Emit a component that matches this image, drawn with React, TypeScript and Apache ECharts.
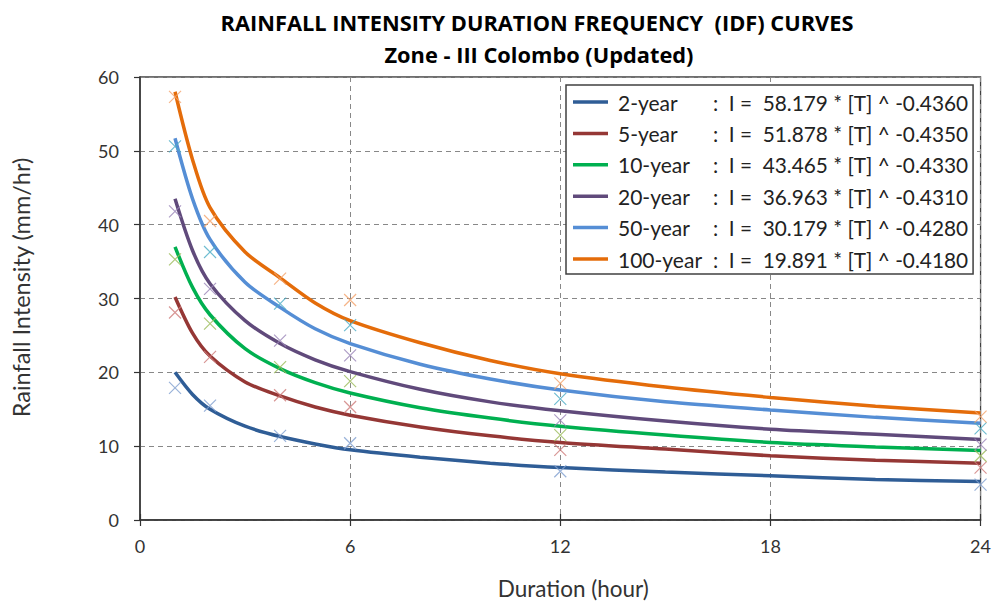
import React, { useEffect, useRef } from "react";
import * as echarts from "echarts";

const durations = [1, 1.5, 2, 3, 4, 5, 6, 8, 10, 12, 15, 18, 21, 24];
const seriesNames = ["2-year", "5-year", "10-year", "20-year", "50-year", "100-year"];
const equations = [
  "58.179 * [T] ^ -0.4360",
  "51.878 * [T] ^ -0.4350",
  "43.465 * [T] ^ -0.4330",
  "36.963 * [T] ^ -0.4310",
  "30.179 * [T] ^ -0.4280",
  "19.891 * [T] ^ -0.4180",
];
const curve2 = [20.0, 17.0, 15.0, 12.7, 11.3, 10.3, 9.5, 8.5, 7.7, 7.1, 6.5, 6.0, 5.5, 5.2];
const curve5 = [30.2, 25.3, 22.2, 18.7, 16.8, 15.3, 14.2, 12.6, 11.4, 10.5, 9.6, 8.7, 8.1, 7.7];
const curve10 = [37.0, 31.5, 27.8, 23.2, 20.5, 18.6, 17.2, 15.2, 13.8, 12.7, 11.5, 10.5, 9.9, 9.4];
const curve20 = [43.5, 36.5, 32.0, 27.0, 23.9, 21.7, 20.1, 17.7, 16.0, 14.8, 13.4, 12.3, 11.6, 10.9];
const curve50 = [51.7, 43.5, 38.0, 32.2, 28.8, 25.9, 23.9, 21.1, 19.1, 17.6, 16.0, 14.9, 13.9, 13.1];
const curve100 = [58.0, 48.8, 42.3, 36.3, 32.8, 29.4, 27.0, 24.0, 21.6, 19.8, 18.0, 16.6, 15.4, 14.5];
const curves = [curve2, curve5, curve10, curve20, curve50, curve100];

const markDurations = [1, 2, 4, 6, 12, 24];
const marks2 = [17.9, 15.5, 11.4, 10.4, 6.6, 4.8];
const marks5 = [28.1, 22.1, 16.9, 15.3, 9.5, 7.1];
const marks10 = [35.3, 26.6, 20.7, 18.8, 11.5, 8.7];
const marks20 = [41.8, 31.3, 24.3, 22.3, 13.5, 10.2];
const marks50 = [50.6, 36.3, 29.3, 26.4, 16.4, 12.4];
const marks100 = [57.3, 40.5, 32.7, 29.8, 18.5, 14.0];
const marks = [marks2, marks5, marks10, marks20, marks50, marks100];

const xTicks = [0, 6, 12, 18, 24];
const yTicks = [0, 10, 20, 30, 40, 50, 60];

const lineColors = ["#2F5D96", "#953735", "#00B050", "#604A7B", "#558ED5", "#E46C0A"];
const markColors = ["#7F9FD0", "#CE7C7A", "#9BBB59", "#9A84B8", "#4BACC6", "#F4A26A"];

const FONT = "Lato, 'Open Sans', sans-serif";
const TITLE_FONT = "'Open Sans', Lato, sans-serif";

export default function App() {
  const ref = useRef<HTMLDivElement>(null);
  useEffect(() => {
    if (!ref.current) return;
    const chart = echarts.init(ref.current, undefined, { renderer: "svg" });
    const eqMap: Record<string, string> = {};
    seriesNames.forEach((n, i) => (eqMap[n] = equations[i]));

    const lineSeries = seriesNames.map((name, i) => ({
      name,
      type: "line",
      data: durations.map((t, j) => [t, curves[i][j]]),
      smooth: 0.3,
      showSymbol: false,
      symbol: "none",
      lineStyle: { color: lineColors[i], width: 3.5 },
      itemStyle: { color: lineColors[i] },
      z: 3,
    }));
    const markSeries = seriesNames.map((name, i) => ({
      name: name + " data",
      type: "scatter",
      data: markDurations.map((t, j) => [t, marks[i][j]]),
      symbol: "path://M0,0L10,10M10,0L0,10",
      symbolSize: 12,
      itemStyle: { color: "none", borderColor: markColors[i], borderWidth: 1.2 },
      z: 4,
    }));

    chart.setOption({
      animation: false,
      backgroundColor: "#ffffff",
      textStyle: { fontFamily: FONT },
      title: [
        {
          text: "RAINFALL INTENSITY DURATION FREQUENCY  (IDF) CURVES",
          left: 532,
          top: 6,
          textAlign: "center",
          textStyle: { fontFamily: TITLE_FONT, fontSize: 21.8, fontWeight: "bold", color: "#000" },
        },
        {
          text: "Zone - III Colombo (Updated)",
          left: 534,
          top: 38,
          textAlign: "center",
          textStyle: { fontFamily: TITLE_FONT, fontSize: 21.8, fontWeight: "bold", color: "#000" },
        },
      ],
      grid: {
        left: 140,
        right: 13,
        top: 77,
        bottom: 83,
        show: true,
        borderColor: "#404040",
        borderWidth: 1.3,
        backgroundColor: "transparent",
      },
      legend: {
        data: seriesNames,
        orient: "vertical",
        left: 566,
        top: 85,
        padding: [5, 5, 3, 7],
        backgroundColor: "#fff",
        borderColor: "#404040",
        borderWidth: 1.5,
        icon: "rect",
        itemWidth: 35,
        itemHeight: 3.5,
        itemGap: 7.4,
        selectedMode: false,
        formatter: (name: string) => `{n|${name}}{e|:  I =  ${eqMap[name]}}`,
        textStyle: {
          fontFamily: FONT,
          fontSize: 21,
          color: "#222",
          lineHeight: 24,
          rich: {
            n: { fontFamily: FONT, fontSize: 21, color: "#222", width: 95, padding: [0, 0, 0, 5], lineHeight: 24 },
            e: { fontFamily: FONT, fontSize: 20.8, color: "#222", lineHeight: 24 },
          },
        },
      },
      xAxis: [
        {
          type: "value",
          min: xTicks[0],
          max: xTicks[xTicks.length - 1],
          interval: 6,
          name: "Duration (hour)",
          nameLocation: "middle",
          nameGap: 57,
          nameTextStyle: { fontFamily: FONT, fontSize: 22.5, color: "#333", padding: [0, 0, 0, 26] },
          axisLine: { show: true, lineStyle: { color: "#333", width: 1.5 } },
          axisTick: { show: true, length: 6, lineStyle: { color: "#333", width: 1.2 } },
          axisLabel: { fontFamily: FONT, fontSize: 18, color: "#333", margin: 17 },
          splitLine: { show: true, lineStyle: { color: "#888", type: [5, 4], width: 1 } },
        },
        {
          type: "value",
          position: "bottom",
          min: xTicks[0],
          max: xTicks[xTicks.length - 1],
          interval: 6,
          axisLine: { show: false },
          axisTick: { show: true, inside: true, length: 6, lineStyle: { color: "#333", width: 1.2 } },
          axisLabel: { show: false },
          splitLine: { show: false },
        },
      ],
      yAxis: {
        type: "value",
        min: yTicks[0],
        max: yTicks[yTicks.length - 1],
        interval: 10,
        name: "Rainfall Intensity (mm/hr)",
        nameLocation: "middle",
        nameGap: 107,
        nameTextStyle: { fontFamily: FONT, fontSize: 23.5, color: "#333", padding: [0, 0, 0, 22] },
        axisLine: { show: true, lineStyle: { color: "#333", width: 1.5 } },
        axisTick: { show: true, length: 6, lineStyle: { color: "#333", width: 1.2 } },
        axisLabel: { fontFamily: FONT, fontSize: 18, color: "#333", margin: 21 },
        splitLine: { show: true, lineStyle: { color: "#888", type: [5, 4], width: 1 } },
      },
      series: [...markSeries, ...lineSeries],
    });
    return () => chart.dispose();
  }, []);
  return (
    <div
      ref={ref}
      style={{ width: 994, height: 605, position: "fixed", left: 0, top: 0, background: "#fff" }}
    />
  );
}
